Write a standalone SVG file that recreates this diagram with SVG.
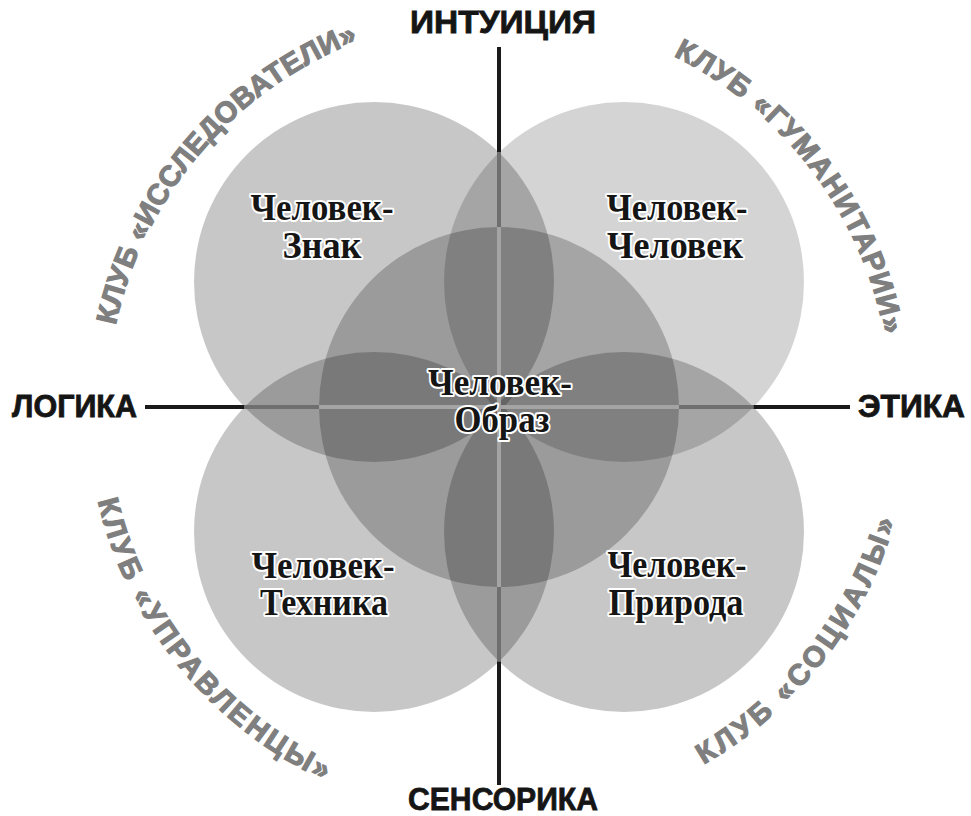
<svg xmlns="http://www.w3.org/2000/svg" width="971" height="816" viewBox="0 0 971 816">
<style>
.ax{font-family:"Liberation Sans",Arial,sans-serif;font-weight:bold;font-size:32px;fill:#151515;stroke:#151515;stroke-width:0.8}
.lbl{font-family:"Liberation Serif","Times New Roman",serif;font-weight:bold;font-size:38px;fill:#151515;stroke:#fff;stroke-width:4;paint-order:stroke;stroke-linejoin:round;text-anchor:middle}
.club{font-family:"Liberation Sans",Arial,sans-serif;font-weight:bold;font-size:29px;fill:#7f7f7f;stroke:#7f7f7f;stroke-width:1.2}
.c{fill:#000;fill-opacity:0.22}
.blk{stroke:#1a1a1a;stroke-width:4;fill:none}
.mid{stroke:#6f6f6f;stroke-width:4;fill:none}
.lt{stroke:#a4a4a4;stroke-width:4;fill:none}
</style>
<defs>
<path id="pTL" d="M113.0,475.1 A392,392 0 0 1 505.8,15.1"/>
<path id="pTR" d="M519.5,15.5 A392,392 0 0 1 881.0,495.2"/>
<path id="pBL" d="M94.2,330.2 A412,412 0 0 0 493.6,819.0"/>
<path id="pBR" d="M514.1,818.7 A412,412 0 0 0 901.8,320.6"/>
</defs>
<rect width="971" height="816" fill="#fff"/>
<g id="circles">
<circle id="c-tl" class="c" cx="374" cy="282" r="180"/>
<circle id="c-tr" class="c" cx="624" cy="282" r="180" style="fill-opacity:0.17"/>
<circle id="c-bl" class="c" cx="374" cy="532" r="180"/>
<circle id="c-br" class="c" cx="624" cy="532" r="180"/>
<circle id="c-center" class="c" cx="499" cy="407" r="180"/>
</g>
<g id="connectors">
<line class="blk" x1="499" y1="47" x2="499" y2="152.5"/>
<line class="mid" x1="499" y1="152.5" x2="499" y2="227"/>
<line class="lt" x1="499" y1="227" x2="499" y2="587"/>
<line class="mid" x1="499" y1="587" x2="499" y2="661.5"/>
<line class="blk" x1="499" y1="661.5" x2="499" y2="785"/>
<line class="blk" x1="145" y1="407" x2="244.5" y2="407"/>
<line class="mid" x1="244.5" y1="407" x2="319" y2="407"/>
<line class="lt" x1="319" y1="407" x2="679" y2="407"/>
<line class="mid" x1="679" y1="407" x2="753.5" y2="407"/>
<line class="blk" x1="753.5" y1="407" x2="850" y2="407"/>
</g>
<g id="axis-labels">
<text class="ax" x="503" y="33" text-anchor="middle" textLength="186" lengthAdjust="spacingAndGlyphs">ИНТУИЦИЯ</text>
<text class="ax" x="12" y="417" textLength="125" lengthAdjust="spacingAndGlyphs" style="font-size:31px">ЛОГИКА</text>
<text class="ax" x="858" y="417" textLength="107" lengthAdjust="spacingAndGlyphs" style="font-size:31px">ЭТИКА</text>
<text class="ax" x="503" y="810" text-anchor="middle" textLength="190" lengthAdjust="spacingAndGlyphs">СЕНСОРИКА</text>
</g>
<g id="clubs">
<text class="club" letter-spacing="0.5"><textPath href="#pTL" startOffset="50%" text-anchor="middle">КЛУБ «ИССЛЕДОВАТЕЛИ»</textPath></text>
<text class="club" letter-spacing="1.5"><textPath href="#pTR" startOffset="50%" text-anchor="middle">КЛУБ «ГУМАНИТАРИИ»</textPath></text>
<text class="club" letter-spacing="3"><textPath href="#pBL" startOffset="50%" text-anchor="middle">КЛУБ «УПРАВЛЕНЦЫ»</textPath></text>
<text class="club" letter-spacing="3.5"><textPath href="#pBR" startOffset="50%" text-anchor="middle">КЛУБ «СОЦИАЛЫ»</textPath></text>
</g>
<g id="node-znak"><text class="lbl"><tspan x="322" y="220" textLength="143" lengthAdjust="spacingAndGlyphs">Человек-</tspan><tspan x="322" y="258" textLength="79" lengthAdjust="spacingAndGlyphs">Знак</tspan></text></g>
<g id="node-chelovek"><text class="lbl"><tspan x="677" y="220" textLength="141" lengthAdjust="spacingAndGlyphs">Человек-</tspan><tspan x="675" y="258" textLength="136" lengthAdjust="spacingAndGlyphs">Человек</tspan></text></g>
<g id="node-obraz"><text class="lbl"><tspan x="500" y="395" textLength="144" lengthAdjust="spacingAndGlyphs">Человек-</tspan><tspan x="502" y="432" textLength="95" lengthAdjust="spacingAndGlyphs">Образ</tspan></text></g>
<g id="node-tehnika"><text class="lbl"><tspan x="323" y="578" textLength="143" lengthAdjust="spacingAndGlyphs">Человек-</tspan><tspan x="324" y="615" textLength="128" lengthAdjust="spacingAndGlyphs">Техника</tspan></text></g>
<g id="node-priroda"><text class="lbl"><tspan x="677" y="577" textLength="139" lengthAdjust="spacingAndGlyphs">Человек-</tspan><tspan x="676" y="615" textLength="135" lengthAdjust="spacingAndGlyphs">Природа</tspan></text></g>
</svg>
